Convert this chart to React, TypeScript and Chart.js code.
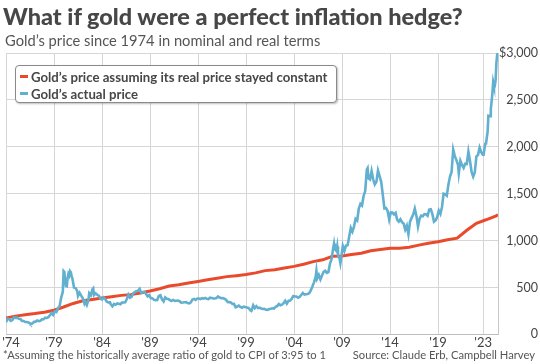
import React, { useEffect, useRef } from "react";
import { Chart, registerables } from "chart.js";

Chart.register(...registerables);

// [year, month, price]
const gold1970s: number[][] = [
  [1974, 1, 129], [1974, 3, 168], [1974, 5, 163], [1974, 7, 143], [1974, 9, 152], [1974, 11, 182],
  [1975, 1, 176], [1975, 3, 178], [1975, 5, 167], [1975, 7, 165], [1975, 9, 144], [1975, 11, 143],
  [1976, 1, 132], [1976, 3, 132], [1976, 5, 128], [1976, 7, 118], [1976, 8, 108], [1976, 10, 116], [1976, 12, 134],
  [1977, 2, 136], [1977, 4, 149], [1977, 6, 141], [1977, 8, 145], [1977, 10, 160], [1977, 12, 161],
  [1978, 2, 178], [1978, 4, 175], [1978, 6, 184], [1978, 8, 206], [1978, 10, 227], [1978, 12, 208],
  [1979, 2, 246], [1979, 4, 239], [1979, 6, 279], [1979, 8, 301], [1979, 10, 392], [1979, 12, 455],
];
const gold1980s: number[][] = [
  [1980, 1, 675], [1980, 2, 665], [1980, 3, 554], [1980, 4, 517], [1980, 5, 514], [1980, 6, 601],
  [1980, 7, 644], [1980, 8, 627], [1980, 9, 674], [1980, 10, 661], [1980, 11, 624], [1980, 12, 595],
  [1981, 2, 500], [1981, 4, 495], [1981, 6, 461], [1981, 7, 409], [1981, 9, 444], [1981, 11, 413],
  [1982, 1, 384], [1982, 3, 330], [1982, 4, 351], [1982, 6, 314], [1982, 8, 365], [1982, 9, 438], [1982, 11, 416],
  [1983, 1, 481], [1983, 2, 491], [1983, 3, 420], [1983, 5, 438], [1983, 7, 423], [1983, 9, 412], [1983, 11, 382],
  [1984, 1, 371], [1984, 3, 394], [1984, 5, 377], [1984, 7, 348], [1984, 9, 341], [1984, 11, 341], [1984, 12, 320],
  [1985, 2, 299], [1985, 4, 325], [1985, 6, 317], [1985, 8, 330], [1985, 10, 326], [1985, 12, 322],
  [1986, 2, 339], [1986, 4, 340], [1986, 6, 343], [1986, 8, 377], [1986, 10, 423], [1986, 12, 391],
  [1987, 2, 401], [1987, 4, 438], [1987, 6, 450], [1987, 8, 461], [1987, 10, 465], [1987, 12, 486],
  [1988, 2, 442], [1988, 4, 451], [1988, 6, 452], [1988, 8, 433], [1988, 10, 406], [1988, 12, 419],
  [1989, 2, 388], [1989, 4, 384], [1989, 6, 368], [1989, 8, 365], [1989, 10, 367], [1989, 12, 409],
];
const gold1990s: number[][] = [
  [1990, 2, 417], [1990, 4, 374], [1990, 6, 352], [1990, 8, 395], [1990, 10, 381], [1990, 12, 378],
  [1991, 2, 363], [1991, 4, 357], [1991, 6, 367], [1991, 8, 357], [1991, 10, 358], [1991, 12, 361],
  [1992, 2, 354], [1992, 4, 338], [1992, 6, 340], [1992, 8, 343], [1992, 10, 345], [1992, 12, 334],
  [1993, 2, 330], [1993, 4, 342], [1993, 6, 372], [1993, 8, 378], [1993, 10, 367], [1993, 12, 383],
  [1994, 2, 382], [1994, 4, 377], [1994, 6, 386], [1994, 8, 381], [1994, 10, 389], [1994, 12, 379],
  [1995, 2, 377], [1995, 4, 391], [1995, 6, 387], [1995, 8, 383], [1995, 10, 383], [1995, 12, 387],
  [1996, 2, 405], [1996, 4, 393], [1996, 6, 385], [1996, 8, 387], [1996, 10, 381], [1996, 12, 369],
  [1997, 2, 346], [1997, 4, 344], [1997, 6, 341], [1997, 8, 324], [1997, 10, 325], [1997, 12, 289],
  [1998, 2, 297], [1998, 4, 308], [1998, 6, 293], [1998, 8, 284], [1998, 10, 296], [1998, 12, 291],
  [1999, 2, 287], [1999, 4, 282], [1999, 6, 262], [1999, 7, 256], [1999, 8, 256], [1999, 10, 311], [1999, 12, 280],
];
const gold2000s: number[][] = [
  [2000, 2, 300], [2000, 4, 280], [2000, 6, 285], [2000, 8, 275], [2000, 10, 271], [2000, 12, 272],
  [2001, 2, 262], [2001, 4, 261], [2001, 6, 270], [2001, 8, 273], [2001, 10, 279], [2001, 12, 276],
  [2002, 2, 295], [2002, 4, 302], [2002, 6, 324], [2002, 8, 310], [2002, 10, 317], [2002, 12, 333],
  [2003, 2, 359], [2003, 4, 328], [2003, 6, 356], [2003, 8, 360], [2003, 10, 379], [2003, 12, 407],
  [2004, 2, 405], [2004, 4, 404], [2004, 6, 392], [2004, 8, 400], [2004, 10, 420], [2004, 12, 442],
  [2005, 2, 424], [2005, 4, 429], [2005, 6, 431], [2005, 8, 438], [2005, 10, 470], [2005, 12, 510],
  [2006, 2, 555], [2006, 4, 610], [2006, 5, 676], [2006, 6, 596], [2006, 8, 633], [2006, 10, 586], [2006, 12, 629],
  [2007, 2, 666], [2007, 4, 679], [2007, 6, 656], [2007, 8, 665], [2007, 10, 754], [2007, 12, 804],
  [2008, 2, 922], [2008, 3, 968], [2008, 4, 909], [2008, 6, 890], [2008, 7, 939], [2008, 8, 839],
  [2008, 10, 807], [2008, 11, 760], [2008, 12, 816],
  [2009, 2, 943], [2009, 4, 890], [2009, 6, 946], [2009, 8, 950], [2009, 10, 1043], [2009, 12, 1135],
];
const gold2010s: number[][] = [
  [2010, 2, 1096], [2010, 4, 1149], [2010, 6, 1232], [2010, 8, 1215], [2010, 10, 1342], [2010, 12, 1391],
  [2011, 2, 1374], [2011, 4, 1476], [2011, 6, 1528], [2011, 8, 1756], [2011, 9, 1772], [2011, 10, 1665], [2011, 12, 1652],
  [2012, 2, 1742], [2012, 4, 1651], [2012, 6, 1598], [2012, 8, 1626], [2012, 10, 1747], [2012, 12, 1688],
  [2013, 2, 1627], [2013, 4, 1487], [2013, 6, 1343], [2013, 8, 1347], [2013, 10, 1316], [2013, 12, 1225],
  [2014, 2, 1300], [2014, 4, 1299], [2014, 6, 1279], [2014, 8, 1296], [2014, 10, 1222], [2014, 12, 1202],
  [2015, 2, 1227], [2015, 4, 1197], [2015, 6, 1182], [2015, 8, 1117], [2015, 10, 1159], [2015, 12, 1068],
  [2016, 2, 1200], [2016, 4, 1242], [2016, 6, 1277], [2016, 8, 1341], [2016, 10, 1266], [2016, 12, 1151],
  [2017, 2, 1234], [2017, 4, 1266], [2017, 6, 1260], [2017, 8, 1283], [2017, 10, 1281], [2017, 12, 1265],
  [2018, 2, 1331], [2018, 4, 1335], [2018, 6, 1282], [2018, 8, 1202], [2018, 10, 1215], [2018, 12, 1250],
  [2019, 2, 1320], [2019, 4, 1285], [2019, 6, 1359], [2019, 8, 1500], [2019, 10, 1495], [2019, 12, 1480],
];
const gold2020s: number[][] = [
  [2020, 2, 1597], [2020, 4, 1683], [2020, 6, 1732], [2020, 8, 1970], [2020, 10, 1900], [2020, 12, 1858],
  [2021, 2, 1808], [2021, 3, 1718], [2021, 5, 1850], [2021, 7, 1807], [2021, 9, 1775], [2021, 11, 1820],
  [2022, 1, 1817], [2022, 3, 1948], [2022, 5, 1849], [2022, 7, 1732], [2022, 9, 1681], [2022, 11, 1726],
  [2023, 1, 1898], [2023, 3, 1912], [2023, 5, 1992], [2023, 7, 1943], [2023, 9, 1916], [2023, 10, 1916], [2023, 12, 2032],
  [2024, 1, 2034], [2024, 3, 2160], [2024, 4, 2331], [2024, 6, 2326], [2024, 7, 2398], [2024, 9, 2570],
  [2024, 10, 2690], [2024, 11, 2650], [2024, 12, 2648],
  [2025, 1, 2710], [2025, 2, 2895], [2025, 3, 2984], [2025, 4, 3000],
];

// Gold's price assuming its real price stayed constant (Jan of each year)
const realYears: number[] = [
  1974, 1975, 1976, 1977, 1978, 1979, 1980, 1981, 1982, 1983, 1984, 1985, 1986, 1987, 1988, 1989,
  1990, 1991, 1992, 1993, 1994, 1995, 1996, 1997, 1998, 1999, 2000, 2001, 2002, 2003, 2004, 2005,
  2006, 2007, 2008, 2009, 2010, 2011, 2012, 2013, 2014, 2015, 2016, 2017, 2018, 2019, 2020, 2021,
  2022, 2023, 2024, 2025, 2025.25,
];
const realValues: number[] = [
  175, 195, 210, 222, 237, 258, 292, 330, 358, 372, 388, 402, 416, 424, 442, 462,
  487, 515, 530, 548, 565, 582, 598, 616, 626, 638, 656, 680, 690, 708, 725, 748,
  776, 795, 832, 836, 852, 866, 892, 906, 918, 918, 930, 952, 972, 988, 1010, 1026,
  1110, 1185, 1222, 1262, 1275,
];

const xTickValues: number[] = [1974, 1979, 1984, 1989, 1994, 1999, 2004, 2009, 2014, 2019, 2023.7];
const xTickLabels: string[] = ["   '74", "'79", "'84", "'89", "'94", "'99", "'04", "'09", "'14", "'19", "'23"];
const yTickLabels: Record<number, string> = {
  0: "0", 500: "500", 1000: "1,000", 1500: "1,500", 2000: "2,000", 2500: "2,500", 3000: "$3,000",
};

const RED = "#ea4a2c";
const BLUE = "#62b0d0";
const FONT = "Lato, 'Open Sans', sans-serif";

export default function App() {
  const canvasRef = useRef<HTMLCanvasElement | null>(null);

  useEffect(() => {
    document.body.style.margin = "0";
    const canvas = canvasRef.current;
    if (!canvas) return;
    const goldPoints = [...gold1970s, ...gold1980s, ...gold1990s, ...gold2000s, ...gold2010s, ...gold2020s].map(
      ([y, m, p]) => ({ x: y + (m - 1) / 12, y: p })
    );
    const realPoints = realYears.map((y, i) => ({ x: y, y: realValues[i] }));

    const chart = new Chart(canvas, {
      type: "line",
      data: {
        datasets: [
          {
            label: "Gold's actual price",
            data: goldPoints,
            borderColor: BLUE,
            borderWidth: 2.6,
            pointRadius: 0,
            tension: 0,
          },
          {
            label: "Gold's price assuming its real price stayed constant",
            data: realPoints,
            borderColor: RED,
            borderWidth: 3,
            pointRadius: 0,
            tension: 0,
          },
        ],
      },
      options: {
        responsive: false,
        animation: false,
        devicePixelRatio: 1,
        layout: { padding: { top: 53, left: 6, right: 2, bottom: 12 } },
        plugins: { legend: { display: false }, tooltip: { enabled: false }, title: { display: false } },
        scales: {
          x: {
            type: "linear",
            min: 1974,
            max: 2025.25,
            afterBuildTicks: (scale: any) => {
              scale.ticks = xTickValues.map((v) => ({ value: v }));
            },
            afterFit: (scale: any) => {
              scale.paddingLeft = 0;
              scale.paddingRight = 0;
            },
            ticks: {
              autoSkip: false,
              maxRotation: 0,
              padding: 1,
              color: "#444",
              font: { family: FONT, size: 13 },
              callback: (value: any) => {
                const i = xTickValues.indexOf(Number(value));
                return i >= 0 ? xTickLabels[i] : "";
              },
            },
            grid: { color: "#d6d6d6", lineWidth: 1, drawTicks: false },
            border: { display: true, color: "#bdbdbd" },
          },
          y: {
            position: "right",
            min: 0,
            max: 3000,
            afterFit: (scale: any) => {
              scale.width = 40;
            },
            ticks: {
              stepSize: 500,
              crossAlign: "far",
              padding: 3,
              color: "#444",
              font: { family: FONT, size: 12.5 },
              callback: (value: any) => yTickLabels[Number(value)] ?? "",
            },
            grid: { color: "#d6d6d6", lineWidth: 1, drawTicks: false },
            border: { display: true, color: "#c8c8c8" },
          },
        },
      },
    } as any);
    return () => chart.destroy();
  }, []);

  const legendRow = (color: string, text: string) => (
    <div style={{ display: "flex", alignItems: "center", height: 17 }}>
      <span style={{ display: "inline-block", width: 8, height: 3, background: color, marginRight: 3 }} />
      <span>{text}</span>
    </div>
  );

  return (
    <div style={{ position: "relative", width: 540, height: 364, background: "#fff", overflow: "hidden", fontFamily: FONT }}>
      <canvas ref={canvasRef} width={540} height={364} style={{ position: "absolute", left: 0, top: 0, width: 540, height: 364 }} />
      <div
        style={{
          position: "absolute", left: 3, top: 1, fontSize: 23.5, fontWeight: 900, color: "#474747",
          whiteSpace: "nowrap", lineHeight: "30px", letterSpacing: 0,
        }}
      >
        What if gold were a perfect inflation hedge?
      </div>
      <div style={{ position: "absolute", left: 5, top: 31, fontSize: 14.7, color: "#555", whiteSpace: "nowrap", lineHeight: "18px" }}>
        Gold’s price since 1974 in nominal and real terms
      </div>
      <div
        style={{
          position: "absolute", left: 15, top: 65, width: 322, height: 38, boxSizing: "border-box",
          border: "1px solid #8a8a8a", borderRadius: 4, background: "#fff", boxShadow: "1px 1px 2px rgba(0,0,0,0.25)",
          padding: "2px 0 0 4px", fontSize: 13.2, fontWeight: 700, color: "#474747", whiteSpace: "nowrap",
        }}
      >
        {legendRow(RED, "Gold’s price assuming its real price stayed constant")}
        {legendRow(BLUE, "Gold’s actual price")}
      </div>
      <div style={{ position: "absolute", left: 3, top: 348, fontSize: 11.2, color: "#555", whiteSpace: "nowrap", lineHeight: "14px" }}>
        *Assuming the historically average ratio of gold to CPI of 3:95 to 1
      </div>
      <div style={{ position: "absolute", right: 5, top: 348, fontSize: 11.2, color: "#555", whiteSpace: "nowrap", lineHeight: "14px" }}>
        Source: Claude Erb, Campbell Harvey
      </div>
    </div>
  );
}
